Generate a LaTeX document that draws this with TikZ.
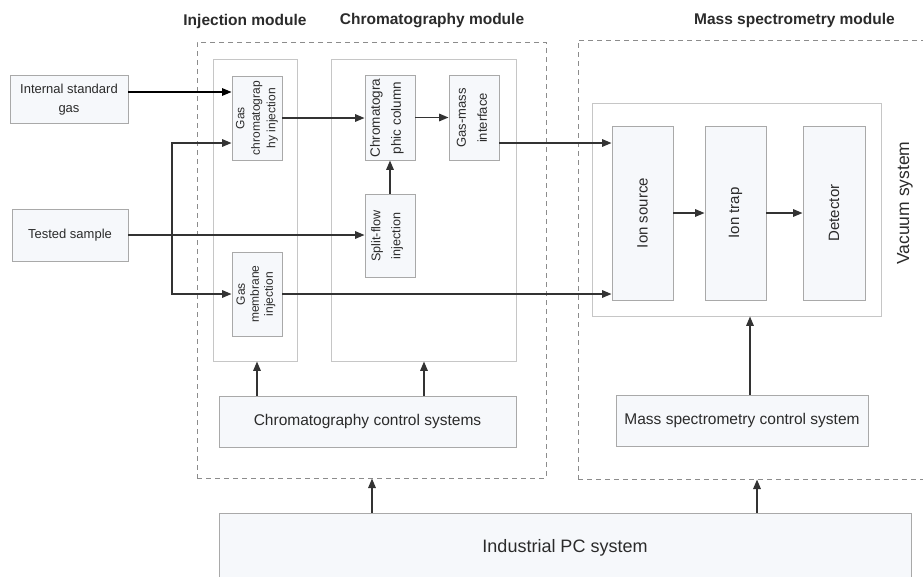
\documentclass[tikz,border=0pt]{standalone}
\usepackage{fontspec}
\setmainfont{Liberation Sans}
\usetikzlibrary{arrows.meta,calc}
\definecolor{boxfill}{HTML}{F6F8FB}
\definecolor{boxdraw}{HTML}{A9A9A9}
\definecolor{framedraw}{HTML}{C6C6C6}
\definecolor{dashdraw}{HTML}{8C8C8C}
\definecolor{linecol}{HTML}{333333}
\definecolor{txt}{HTML}{2B2B2B}
\begin{document}
\begin{tikzpicture}[x=1pt,y=-1pt,
  sbox/.style={draw=boxdraw, fill=boxfill, line width=0.9pt, inner sep=0pt},
  frame/.style={draw=framedraw, fill=white, line width=0.9pt, inner sep=0pt},
  dashframe/.style={draw=dashdraw, line width=1pt, dash pattern=on 5pt off 4pt, inner sep=0pt},
  arr/.style={draw=linecol, line width=1.6pt, -{Triangle[length=9.5pt,width=7.5pt]}},
  lbl/.style={text=txt, inner sep=0pt, align=center},
  title/.style={text=txt, font=\fontsize{15.5}{18}\selectfont\bfseries, inner sep=0pt}
]
\useasboundingbox (0,0) rectangle (923,576);
\clip (0,0) rectangle (923,576);

% titles
\node[title] (t1) at (245,21) {Injection module};
\node[title] (t2) at (432,21) {Chromatography module};
\node[title] (t3) at (794.5,20) {Mass spectrometry module};

% dashed module frames
\node[dashframe, minimum width=349pt, minimum height=436pt] (dash1) at (371.5,260) {};
\node[dashframe, minimum width=382pt, minimum height=439pt] (dash2) at (769,259.5) {};

% inner frames
\node[frame, minimum width=84pt, minimum height=302pt] (injf) at (255,210) {};
\node[frame, minimum width=185pt, minimum height=302pt] (chrf) at (423.5,210) {};
\node[frame, minimum width=289pt, minimum height=213pt] (vac) at (736.5,209.5) {};

% outside inputs
\node[sbox, minimum width=118pt, minimum height=48pt] (isg) at (69,99) {};
\node[lbl, font=\fontsize{13}{19}\selectfont] (isgt) at (69,99.5) {Internal standard\\gas};
\node[sbox, minimum width=116pt, minimum height=52pt] (ts) at (70,235) {};
\node[lbl, font=\fontsize{13}{15}\selectfont] (tst) at (70,235) {Tested sample};

% injection boxes
\node[sbox, minimum width=50pt, minimum height=84pt] (gci) at (257,118) {};
\node[lbl, rotate=90, font=\fontsize{12}{15.5}\selectfont] (gcit) at (257,118) {Gas\\chromatograp\\hy injection};
\node[sbox, minimum width=50pt, minimum height=84pt] (gmi) at (257,294) {};
\node[lbl, rotate=90, font=\fontsize{12}{14}\selectfont] (gmit) at (256,294) {Gas\\membrane\\injection};

% chromatography boxes
\node[sbox, minimum width=50pt, minimum height=85pt] (cc) at (390,117.5) {};
\node[lbl, rotate=90, font=\fontsize{13.5}{21}\selectfont] (cct) at (387,118) {Chromatogra\\phic column};
\node[sbox, minimum width=50pt, minimum height=85pt] (gmif) at (474,117.5) {};
\node[lbl, rotate=90, font=\fontsize{13}{21}\selectfont] (gmift) at (472,118) {Gas-mass\\interface};
\node[sbox, minimum width=50pt, minimum height=83pt] (sfi) at (390,235.5) {};
\node[lbl, rotate=90, font=\fontsize{12.6}{20}\selectfont] (sfit) at (387,236) {Split-flow\\injection};

% mass spectrometry boxes
\node[sbox, minimum width=61pt, minimum height=174pt] (ionsrc) at (642.5,213) {};
\node[lbl, rotate=90, font=\fontsize{15}{18}\selectfont] (ionsrct) at (642.5,213) {Ion source};
\node[sbox, minimum width=61pt, minimum height=174pt] (iontrap) at (735.5,213) {};
\node[lbl, rotate=90, font=\fontsize{15}{18}\selectfont] (iontrapt) at (735.5,213) {Ion trap};
\node[sbox, minimum width=62pt, minimum height=174pt] (detector) at (834,213) {};
\node[lbl, rotate=90, font=\fontsize{15}{18}\selectfont] (detectort) at (834,213) {Detector};
\node[lbl, rotate=90, font=\fontsize{17.5}{20}\selectfont] (vact) at (905,203) {Vacuum system};

% control systems
\node[sbox, minimum width=297pt, minimum height=51pt] (ccs) at (367.5,421.5) {};
\node[lbl, font=\fontsize{15.5}{18}\selectfont] (ccst) at (367.5,421) {Chromatography control systems};
\node[sbox, minimum width=252pt, minimum height=51pt] (mscs) at (742,420.5) {};
\node[lbl, font=\fontsize{15.5}{18}\selectfont] (mscst) at (742,420) {Mass spectrometry control system};
\node[sbox, minimum width=692pt, minimum height=70pt] (ipc) at (565,548) {};
\node[lbl, font=\fontsize{18}{21}\selectfont] (ipct) at (565,548) {Industrial PC system};

% helper coordinates
\coordinate (y92) at (0,92);
\coordinate (y143) at (0,143);
\coordinate (jn) at (172,235);
\coordinate (jtop) at (172,143);
\coordinate (jbot) at (172,294);
\coordinate (x424) at (424,0);
\coordinate (x750) at (750,0);
\coordinate (x372) at (372,0);
\coordinate (x757) at (757,0);

% connectors
\draw[arr, draw=black, line width=1.4pt] (isg.east |- y92) -- (gci.west |- y92);
\draw[arr] (ts.east) -- (sfi.west |- ts.east);
\draw[arr] (jn) -- (jtop) -- (gci.west |- jtop);
\draw[arr] (jn) -- (jbot) -- (gmi.west |- jbot);
\draw[arr] (gci.east) -- (cc.west |- gci.east);
\draw[arr] (cc.east) -- (gmif.west);
\draw[arr] (gmif.east |- y143) -- (ionsrc.west |- y143);
\draw[arr] (sfi.north) -- (cc.south);
\draw[arr] (gmi.east) -- (ionsrc.west |- gmi.east);
\draw[arr] (ionsrc.east) -- (iontrap.west);
\draw[arr] (iontrap.east) -- (detector.west);
\draw[arr] (ccs.north -| gmi) -- (injf.south -| gmi);
\draw[arr] (ccs.north -| x424) -- (chrf.south -| x424);
\draw[arr] (mscs.north -| x750) -- (vac.south -| x750);
\draw[arr] (ipc.north -| x372) -- (dash1.south -| x372);
\draw[arr] (ipc.north -| x757) -- (dash2.south -| x757);
\end{tikzpicture}
\end{document}
